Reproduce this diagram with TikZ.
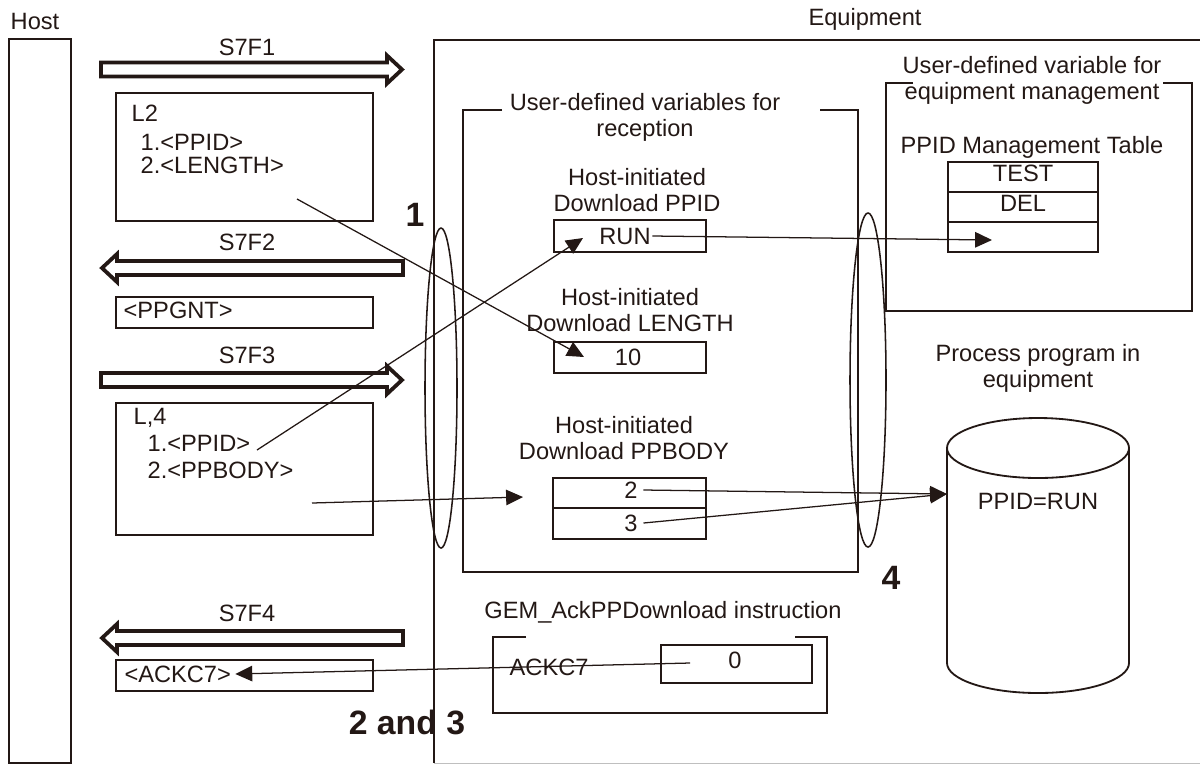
\documentclass[tikz,border=0pt]{standalone}
\usepackage{fontspec}
\setmainfont{Liberation Sans}
\usepackage{pdfrender}
\usetikzlibrary{arrows.meta}
\definecolor{ink}{HTML}{231815}
\newcommand\hollow[1]{\textpdfrender{TextRenderingMode=Stroke,LineWidth=1.5pt}{#1}}
\tikzset{
  >={Triangle[length=12pt,width=11pt]},
  every node/.style={font=\fontsize{16.8}{18.5}\selectfont,inner sep=1pt,text=ink},
  outline/.style={draw=ink,line width=1.3pt},
  box/.style={draw=ink,line width=1.3pt},
  tabrow/.style={draw=ink,line width=1.7pt,minimum width=3.75cm,minimum height=0.75cm},
  msg/.style={draw=ink,line width=2.7pt,fill=white,line join=miter},
  ring/.style={draw=ink,line width=1.1pt},
  link/.style={->,draw=ink,line width=0.9pt},
  lbl/.style={align=center},
  big/.style={font=\fontsize{24}{28}\selectfont\bfseries},
  % block arrow for the messages
  msgr/.pic={\draw[msg] (0,-7) -- (286,-7) -- (286,-14) -- (301,0) -- (286,14) -- (286,7) -- (0,7) -- cycle;},
}
\begin{document}
\begin{tikzpicture}[x=0.025cm,y=-0.025cm]
  \useasboundingbox (0,0) rectangle (1200,765);
  % host
  \node (host) at (35,21) {Host};
  \node[box,minimum width=1.55cm,minimum height=18.1cm] (hostbar) at (40,401) {};
  % equipment
  \node (equip) at (865,19) {Equipment};
  \draw[outline] (1205,40) -- (434,40) -- (434,763);
  \draw[draw=black!25,line width=0.6pt] (434,763) -- (1205,763);
  % messages
  \pic at (101,69.5) {msgr};
  \node (s7f1) at (247,47) {S7F1};
  \pic[xscale=-1] at (403,268) {msgr};
  \node (s7f2) at (247,242) {S7F2};
  \pic at (101,380) {msgr};
  \node (s7f3) at (247,355) {S7F3};
  \pic[xscale=-1] at (403,638) {msgr};
  \node (s7f4) at (247,613) {S7F4};
  % message data
  \node[box,minimum width=6.425cm,minimum height=3.2cm] (l2box) at (244.5,157) {};
  \node[anchor=west] (l2) at (130,113) {L2};
  \node[anchor=west] (l2a) at (139,142) {1.<PPID>};
  \node[anchor=west] (l2b) at (139,165) {2.<LENGTH>};
  \node[box,minimum width=6.425cm,minimum height=0.775cm] (ppgntbox) at (244.5,312.5) {};
  \node[anchor=west] (ppgnt) at (122,310) {<PPGNT>};
  \node[box,minimum width=6.425cm,minimum height=3.3cm] (l4box) at (244.5,469) {};
  \node[anchor=west] (l4) at (132,418) {L,4};
  \node[anchor=west] (l4a) at (146,443) {1.<PPID>};
  \node[anchor=west] (l4b) at (146,470) {2.<PPBODY>};
  \node[box,minimum width=6.425cm,minimum height=0.775cm] (ackbox) at (244.5,675.5) {};
  \node[anchor=west,inner xsep=3pt] (ackc7) at (120,674) {<ACKC7>};
  % reception variables
  \draw[outline] (502,110) -- (463,110) -- (463,572) -- (858,572) -- (858,110) -- (820,110);
  \node[lbl] (recv) at (645,117) {User-defined variables for\\reception};
  \node[lbl] (dlppid) at (637,190) {Host-initiated\\Download PPID};
  \node[box,minimum width=3.8cm,minimum height=0.8cm] (ppidbox) at (630,236) {};
  \node (run) at (625,236) {RUN};
  \node[lbl] (dllen) at (630,310) {Host-initiated\\Download LENGTH};
  \node[box,minimum width=3.8cm,minimum height=0.775cm] (lenbox) at (630,357.5) {};
  \node (len) at (628,357) {10};
  \node[lbl] (dlbody) at (624,438) {Host-initiated\\Download PPBODY};
  \node[box,minimum width=3.825cm,minimum height=0.75cm] (body1) at (629.5,493) {};
  \node[box,minimum width=3.825cm,minimum height=0.775cm] (body2) at (629.5,523.5) {};
  \node[inner xsep=4pt] (v2) at (631,490) {2};
  \node[inner xsep=4pt] (v3) at (631,523) {3};
  % management variable
  \draw[outline] (913,83) -- (886,83) -- (886,311) -- (1192,311) -- (1192,83) -- (1163,83);
  \node[lbl] (mgmt) at (1032,80) {User-defined variable for\\equipment management};
  \node (ppidtab) at (1032,147) {PPID Management Table};
  \node[tabrow] (row1) at (1023,177) {};
  \node[tabrow] (row2) at (1023,207) {};
  \node[tabrow] (row3) at (1023,237) {};
  \node (test) at (1023,173) {TEST};
  \node (del) at (1023,203) {DEL};
  % process program
  \node[lbl] (proc) at (1038,368) {Process program in\\equipment};
  \draw[box] (947,448) -- (947,663) arc[start angle=180,end angle=0,x radius=91,y radius=30] -- (1129,448);
  \draw[box] (1038,448) ellipse [x radius=91,y radius=30];
  \node (store) at (1038,501) {PPID=RUN};
  % instruction
  \node (gem) at (663,612) {GEM\_AckPPDownload instruction};
  \draw[outline] (526,637) -- (493,637) -- (493,713) -- (827,713) -- (827,637) -- (795,637);
  \node[anchor=west] (ackvar) at (508,667) {ACKC7};
  \node[box,minimum width=3.775cm,minimum height=0.95cm] (zerobox) at (736.5,664) {};
  \node (zero) at (735,660) {0};
  % boundaries
  \draw[ring] (441,388) ellipse [x radius=16,y radius=160];
  \draw[ring] (868,380) ellipse [x radius=18,y radius=167];
  \node[big] (n1) at (415,215) {\hollow{1}};
  \node[big] (n4) at (891,578) {\hollow{4}};
  \node[big] (n23) at (407,722) {\hollow{2 and 3}};
  % data flow
  \coordinate (l2from) at (297,199);
  \coordinate (lento) at (584,357);
  \draw[link] (l2from) -- (lento);
  \coordinate (ppidfrom) at (257,450);
  \coordinate (runto) at (583,238);
  \draw[link] (ppidfrom) -- (runto);
  \coordinate (bodyfrom) at (312,503);
  \coordinate (bodyto) at (523,497);
  \draw[link] (bodyfrom) -- (bodyto);
  \coordinate (tabto) at (992,240);
  \draw[link] (run.east) -- (tabto);
  \coordinate (storeto) at (947,494);
  \draw[link] (v2.east) -- (storeto);
  \draw[link] (v3.east) -- (storeto);
  \coordinate (ackfrom) at (690,663);
  \draw[link] (ackfrom) -- (ackc7.east);
\end{tikzpicture}
\end{document}
